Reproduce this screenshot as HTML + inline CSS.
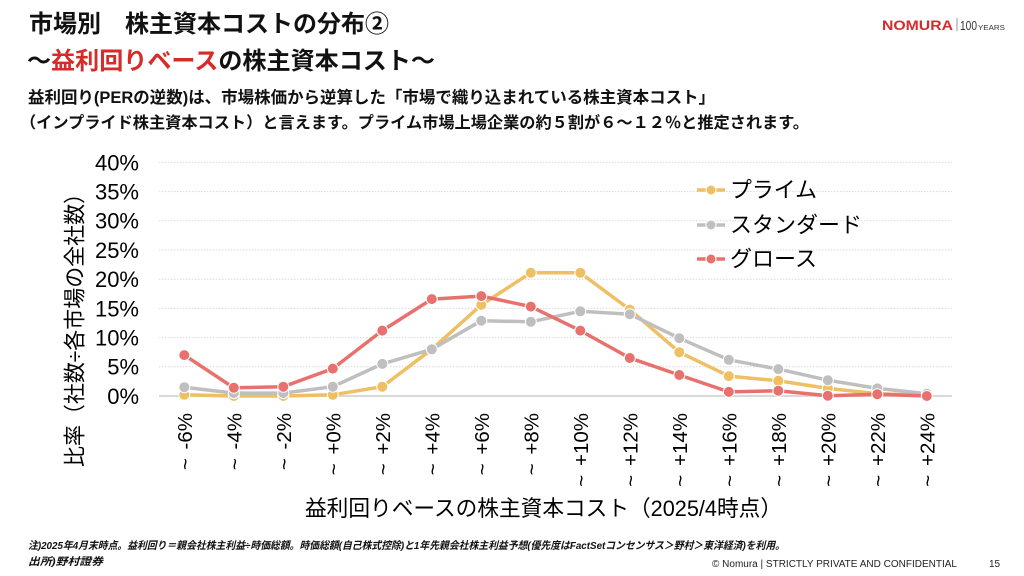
<!DOCTYPE html>
<html><head><meta charset="utf-8">
<style>
html,body{margin:0;padding:0;background:#fff;}
svg{display:block;}
.jp{font-family:"Liberation Sans","Noto Sans CJK JP",sans-serif;}
</style></head>
<body>
<svg width="1024" height="576" viewBox="0 0 1024 576" xmlns="http://www.w3.org/2000/svg">
<rect width="1024" height="576" fill="#fff"/>

<!-- Titles -->
<text class="jp" x="29" y="32" font-size="24" font-weight="700" fill="#111" textLength="360" lengthAdjust="spacingAndGlyphs">市場別　株主資本コストの分布②</text>
<text class="jp" x="27" y="69" font-size="24" font-weight="700" fill="#111" textLength="408" lengthAdjust="spacingAndGlyphs">～<tspan fill="#D62B28">益利回りベース</tspan>の株主資本コスト～</text>
<text class="jp" x="28" y="103" font-size="16.5" font-weight="700" fill="#111" textLength="687" lengthAdjust="spacingAndGlyphs">益利回り(PERの逆数)は、市場株価から逆算した「市場で織り込まれている株主資本コスト」</text>
<text class="jp" x="20" y="128" font-size="16" font-weight="700" fill="#111" textLength="789" lengthAdjust="spacingAndGlyphs">（インプライド株主資本コスト）と言えます。プライム市場上場企業の約５割が６～１２％と推定されます。</text>

<!-- Logo -->
<text x="882" y="30" font-family="Liberation Sans, sans-serif" font-size="14" font-weight="700" fill="#D52B2E" textLength="71" lengthAdjust="spacingAndGlyphs">NOMURA</text>
<line x1="957" y1="18" x2="957" y2="31" stroke="#999" stroke-width="1"/>
<text x="960" y="30" font-family="Liberation Sans, sans-serif" font-size="12.5" fill="#333" textLength="17" lengthAdjust="spacingAndGlyphs">100</text>
<text x="978" y="30" font-family="Liberation Sans, sans-serif" font-size="7.5" fill="#333" textLength="27" lengthAdjust="spacingAndGlyphs">YEARS</text>

<!-- Gridlines -->
<g stroke="#D9D9D9" stroke-width="1" stroke-dasharray="1.5,1.5">
<line x1="159" y1="366.8" x2="952" y2="366.8"/>
<line x1="159" y1="337.6" x2="952" y2="337.6"/>
<line x1="159" y1="308.4" x2="952" y2="308.4"/>
<line x1="159" y1="279.2" x2="952" y2="279.2"/>
<line x1="159" y1="250" x2="952" y2="250"/>
<line x1="159" y1="220.8" x2="952" y2="220.8"/>
<line x1="159" y1="191.6" x2="952" y2="191.6"/>
<line x1="159" y1="162.4" x2="952" y2="162.4"/>
</g>
<line x1="159" y1="396" x2="952" y2="396" stroke="#D9D9D9" stroke-width="2"/>

<!-- Y tick labels -->
<g font-family="Liberation Sans, sans-serif" font-size="22" fill="#000" text-anchor="end">
<text x="139" y="170.3">40%</text>
<text x="139" y="199.5">35%</text>
<text x="139" y="228.7">30%</text>
<text x="139" y="257.9">25%</text>
<text x="139" y="287.1">20%</text>
<text x="139" y="316.3">15%</text>
<text x="139" y="345.5">10%</text>
<text x="139" y="374.7">5%</text>
<text x="139" y="403.9">0%</text>
</g>

<!-- Y axis title -->
<text class="jp" transform="translate(75,325) rotate(-90)" text-anchor="middle" dominant-baseline="central" font-size="22" fill="#000" textLength="284" lengthAdjust="spacingAndGlyphs">比率（社数÷各市場の全社数）</text>

<!-- X tick labels -->
<g font-family="Liberation Sans, sans-serif" font-size="20.5" fill="#000" text-anchor="end">
<text transform="translate(191.8,413) rotate(-90)">~ <tspan dx="3">-6%</tspan></text>
<text transform="translate(241.3,413) rotate(-90)">~ <tspan dx="3">-4%</tspan></text>
<text transform="translate(290.8,413) rotate(-90)">~ <tspan dx="3">-2%</tspan></text>
<text transform="translate(340.3,413) rotate(-90)">~ <tspan dx="3">+0%</tspan></text>
<text transform="translate(389.8,413) rotate(-90)">~ <tspan dx="3">+2%</tspan></text>
<text transform="translate(439.3,413) rotate(-90)">~ <tspan dx="3">+4%</tspan></text>
<text transform="translate(488.8,413) rotate(-90)">~ <tspan dx="3">+6%</tspan></text>
<text transform="translate(538.3,413) rotate(-90)">~ <tspan dx="3">+8%</tspan></text>
<text transform="translate(587.8,413) rotate(-90)">~ <tspan dx="3">+10%</tspan></text>
<text transform="translate(637.3,413) rotate(-90)">~ <tspan dx="3">+12%</tspan></text>
<text transform="translate(686.8,413) rotate(-90)">~ <tspan dx="3">+14%</tspan></text>
<text transform="translate(736.3,413) rotate(-90)">~ <tspan dx="3">+16%</tspan></text>
<text transform="translate(785.8,413) rotate(-90)">~ <tspan dx="3">+18%</tspan></text>
<text transform="translate(835.3,413) rotate(-90)">~ <tspan dx="3">+20%</tspan></text>
<text transform="translate(884.8,413) rotate(-90)">~ <tspan dx="3">+22%</tspan></text>
<text transform="translate(934.3,413) rotate(-90)">~ <tspan dx="3">+24%</tspan></text>
</g>

<!-- X axis title -->
<text class="jp" x="305" y="516" font-size="22" fill="#000" textLength="477" lengthAdjust="spacingAndGlyphs">益利回りベースの株主資本コスト（2025/4時点）</text>

<!-- Series: Prime -->
<polyline fill="none" stroke="#EFBF63" stroke-width="3.5" stroke-linejoin="round"
points="184.3,394.8 233.8,396 283.3,396 332.8,394.8 382.3,386.7 431.8,349.3 481.3,304.9 530.8,272.8 580.3,272.8 629.8,309.6 679.3,352.2 728.8,376.1 778.3,380.8 827.8,388.4 877.3,393.7 926.8,395.4"/>
<g fill="#EFBF63" stroke="#fff" stroke-width="1">
<circle cx="184.3" cy="394.8" r="5.5"/><circle cx="233.8" cy="396" r="5.5"/><circle cx="283.3" cy="396" r="5.5"/><circle cx="332.8" cy="394.8" r="5.5"/><circle cx="382.3" cy="386.7" r="5.5"/><circle cx="431.8" cy="349.3" r="5.5"/><circle cx="481.3" cy="304.9" r="5.5"/><circle cx="530.8" cy="272.8" r="5.5"/><circle cx="580.3" cy="272.8" r="5.5"/><circle cx="629.8" cy="309.6" r="5.5"/><circle cx="679.3" cy="352.2" r="5.5"/><circle cx="728.8" cy="376.1" r="5.5"/><circle cx="778.3" cy="380.8" r="5.5"/><circle cx="827.8" cy="388.4" r="5.5"/><circle cx="877.3" cy="393.7" r="5.5"/><circle cx="926.8" cy="395.4" r="5.5"/>
</g>

<!-- Series: Standard -->
<polyline fill="none" stroke="#BFBFBF" stroke-width="3.5" stroke-linejoin="round"
points="184.3,387.2 233.8,393.1 283.3,393.1 332.8,386.7 382.3,363.9 431.8,349.3 481.3,320.7 530.8,321.8 580.3,311.3 629.8,314.2 679.3,338.2 728.8,359.8 778.3,369.1 827.8,380.2 877.3,388.4 926.8,393.7"/>
<g fill="#BFBFBF" stroke="#fff" stroke-width="1">
<circle cx="184.3" cy="387.2" r="5.5"/><circle cx="233.8" cy="393.1" r="5.5"/><circle cx="283.3" cy="393.1" r="5.5"/><circle cx="332.8" cy="386.7" r="5.5"/><circle cx="382.3" cy="363.9" r="5.5"/><circle cx="431.8" cy="349.3" r="5.5"/><circle cx="481.3" cy="320.7" r="5.5"/><circle cx="530.8" cy="321.8" r="5.5"/><circle cx="580.3" cy="311.3" r="5.5"/><circle cx="629.8" cy="314.2" r="5.5"/><circle cx="679.3" cy="338.2" r="5.5"/><circle cx="728.8" cy="359.8" r="5.5"/><circle cx="778.3" cy="369.1" r="5.5"/><circle cx="827.8" cy="380.2" r="5.5"/><circle cx="877.3" cy="388.4" r="5.5"/><circle cx="926.8" cy="393.7" r="5.5"/>
</g>

<!-- Series: Growth -->
<polyline fill="none" stroke="#E8716E" stroke-width="3.5" stroke-linejoin="round"
points="184.3,355.1 233.8,387.8 283.3,386.7 332.8,368.6 382.3,330.6 431.8,299.1 481.3,296.1 530.8,306.6 580.3,330.6 629.8,358 679.3,375 728.8,391.9 778.3,390.7 827.8,395.7 877.3,394.2 926.8,396"/>
<g fill="#E8716E" stroke="#fff" stroke-width="1">
<circle cx="184.3" cy="355.1" r="5.5"/><circle cx="233.8" cy="387.8" r="5.5"/><circle cx="283.3" cy="386.7" r="5.5"/><circle cx="332.8" cy="368.6" r="5.5"/><circle cx="382.3" cy="330.6" r="5.5"/><circle cx="431.8" cy="299.1" r="5.5"/><circle cx="481.3" cy="296.1" r="5.5"/><circle cx="530.8" cy="306.6" r="5.5"/><circle cx="580.3" cy="330.6" r="5.5"/><circle cx="629.8" cy="358" r="5.5"/><circle cx="679.3" cy="375" r="5.5"/><circle cx="728.8" cy="391.9" r="5.5"/><circle cx="778.3" cy="390.7" r="5.5"/><circle cx="827.8" cy="395.7" r="5.5"/><circle cx="877.3" cy="394.2" r="5.5"/><circle cx="926.8" cy="396" r="5.5"/>
</g>

<!-- Legend -->
<g>
<line x1="697" y1="190" x2="725" y2="190" stroke="#EFBF63" stroke-width="3.5"/>
<circle cx="711" cy="190" r="5" fill="#EFBF63" stroke="#fff" stroke-width="1"/>
<text class="jp" x="730" y="190" dominant-baseline="central" font-size="22" fill="#000" textLength="87" lengthAdjust="spacingAndGlyphs">プライム</text>
<line x1="697" y1="225" x2="725" y2="225" stroke="#BFBFBF" stroke-width="3.5"/>
<circle cx="711" cy="225" r="5" fill="#BFBFBF" stroke="#fff" stroke-width="1"/>
<text class="jp" x="730" y="225" dominant-baseline="central" font-size="22" fill="#000" textLength="132" lengthAdjust="spacingAndGlyphs">スタンダード</text>
<line x1="697" y1="259" x2="725" y2="259" stroke="#E8716E" stroke-width="3.5"/>
<circle cx="711" cy="259" r="5" fill="#E8716E" stroke="#fff" stroke-width="1"/>
<text class="jp" x="730" y="259" dominant-baseline="central" font-size="22" fill="#000" textLength="87" lengthAdjust="spacingAndGlyphs">グロース</text>
</g>

<!-- Footnotes -->
<text class="jp" x="28" y="549" font-size="10.5" font-style="italic" font-weight="700" fill="#111" textLength="757" lengthAdjust="spacingAndGlyphs">注)2025年4月末時点。益利回り＝親会社株主利益÷時価総額。時価総額(自己株式控除)と1年先親会社株主利益予想(優先度はFactSetコンセンサス＞野村＞東洋経済)を利用。</text>
<text class="jp" x="28" y="565" font-size="10.5" font-style="italic" font-weight="700" fill="#111" textLength="75" lengthAdjust="spacingAndGlyphs">出所)野村證券</text>

<text x="712" y="567" font-family="Liberation Sans, sans-serif" font-size="10" fill="#222" textLength="245" lengthAdjust="spacingAndGlyphs">© Nomura | STRICTLY PRIVATE AND CONFIDENTIAL</text>
<text x="989" y="567" font-family="Liberation Sans, sans-serif" font-size="10" fill="#222">15</text>
</svg>
</body></html>
